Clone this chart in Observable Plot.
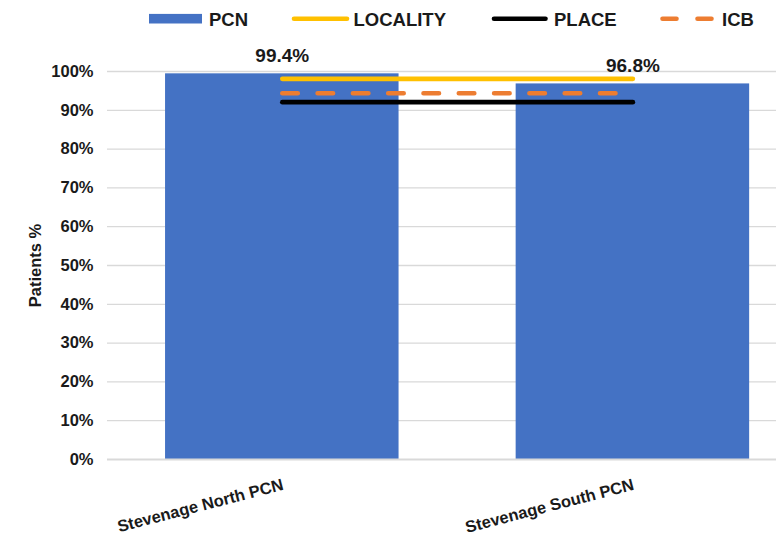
<!DOCTYPE html>
<html>
<head>
<meta charset="utf-8">
<script src="https://cdn.jsdelivr.net/npm/d3@7"></script>
<script src="https://cdn.jsdelivr.net/npm/@observablehq/plot@0.6"></script>
<style>
  body { margin: 0; background: #fff; }
  #chart { position: relative; width: 776px; height: 536px; font-family: "Liberation Sans", Arial, sans-serif; }
  #legend { position: absolute; left: 0; top: 0; }
</style>
</head>
<body>
<div id="chart"></div>
<script>
// Share of patients per PCN, with the locality, place and ICB reference levels
const categories = ["Stevenage North PCN", "Stevenage South PCN"];
const pcnValues = [0.994, 0.968];
const localityValues = [0.981, 0.981];
const placeValues = [0.921, 0.921];
const icbValues = [0.944, 0.944];
const yTicks = [0, 0.1, 0.2, 0.3, 0.4, 0.5, 0.6, 0.7, 0.8, 0.9, 1.0];
const legendItems = ["PCN", "LOCALITY", "PLACE", "ICB"];

const colors = { PCN: "#4472C4", LOCALITY: "#FFC000", PLACE: "#000000", ICB: "#ED7D31" };
const font = "'Liberation Sans', Arial, sans-serif";

const bars = categories.map((c, i) => ({ category: c, value: pcnValues[i] }));
const levelRows = vals => categories.map((c, i) => ({ category: c, value: vals[i] }));
const pct = v => `${Math.round(v * 100)}%`;

const chart = Plot.plot({
  width: 776,
  height: 536,
  marginLeft: 107,
  marginRight: 0,
  marginTop: 71,
  marginBottom: 77,
  style: { fontFamily: font, background: "transparent", overflow: "visible", color: "#000" },
  x: { domain: categories, range: [106.5, 807.7], paddingInner: 0.334, paddingOuter: 0.167, round: false, axis: null },
  y: { domain: [0, 1], axis: null },
  marks: [
    Plot.ruleY(yTicks.slice(1), { stroke: "#d9d9d9", strokeWidth: 1.3 }),
    Plot.barY(bars, { x: "category", y: "value", fill: colors.PCN }),
    Plot.ruleY([0], { stroke: "#d9d9d9", strokeWidth: 2.2 }),
    Plot.lineY(levelRows(localityValues), { x: "category", y: "value", stroke: colors.LOCALITY, strokeWidth: 4.6, strokeLinecap: "round" }),
    Plot.lineY(levelRows(icbValues), { x: "category", y: "value", stroke: colors.ICB, strokeWidth: 4.6, strokeLinecap: "round", strokeDasharray: "15.5 19.8" }),
    Plot.lineY(levelRows(placeValues), { x: "category", y: "value", stroke: colors.PLACE, strokeWidth: 4.6, strokeLinecap: "round" }),
    Plot.text(bars, { x: "category", y: "value", text: d => `${(d.value * 100).toFixed(1)}%`, dy: -12, lineAnchor: "bottom", fontSize: 19, fontWeight: "bold", fill: "#1a1a1a" }),
    Plot.axisY({ ticks: yTicks, tickFormat: pct, tickSize: 0, tickPadding: 14, fontSize: 16.5, fontWeight: "bold", label: null, fill: "#1a1a1a" }),
    Plot.text(categories, { x: d => d, frameAnchor: "bottom", textAnchor: "end", lineAnchor: "bottom", rotate: -14.5, dx: 2, dy: 30, fontSize: 16.5, fontWeight: "bold", fill: "#1a1a1a" }),
    Plot.text(["Patients %"], { frameAnchor: "left", textAnchor: "middle", lineAnchor: "middle", dx: -72, rotate: -90, fontSize: 16.5, fontWeight: "bold", fill: "#1a1a1a" })
  ]
});

const root = document.getElementById("chart");
root.appendChild(chart);

// Legend row across the top
const legend = d3.select(root).append("svg")
  .attr("id", "legend")
  .attr("width", 776)
  .attr("height", 40)
  .style("font-family", font);

const keyLayout = {
  PCN: { x0: 149, x1: 202, tx: 209 },
  LOCALITY: { x0: 294, x1: 347, tx: 353.5 },
  PLACE: { x0: 494, x1: 545.5, tx: 554 },
  ICB: { x0: 662.5, x1: 711.5, tx: 722 }
};
const rowY = 18.7;

legendItems.forEach(name => {
  const k = keyLayout[name];
  if (name === "PCN") {
    legend.append("rect").attr("x", k.x0).attr("y", rowY - 4.8).attr("width", k.x1 - k.x0).attr("height", 9.6).attr("fill", colors[name]);
  } else {
    legend.append("line")
      .attr("x1", k.x0).attr("x2", k.x1).attr("y1", rowY).attr("y2", rowY)
      .attr("stroke", colors[name]).attr("stroke-width", 4.6).attr("stroke-linecap", "round")
      .attr("stroke-dasharray", name === "ICB" ? "14 21" : null);
  }
  legend.append("text")
    .attr("x", k.tx).attr("y", 25.5)
    .attr("font-size", 18.5).attr("font-weight", "bold").attr("fill", "#1a1a1a")
    .text(name);
});
</script>
</body>
</html>
